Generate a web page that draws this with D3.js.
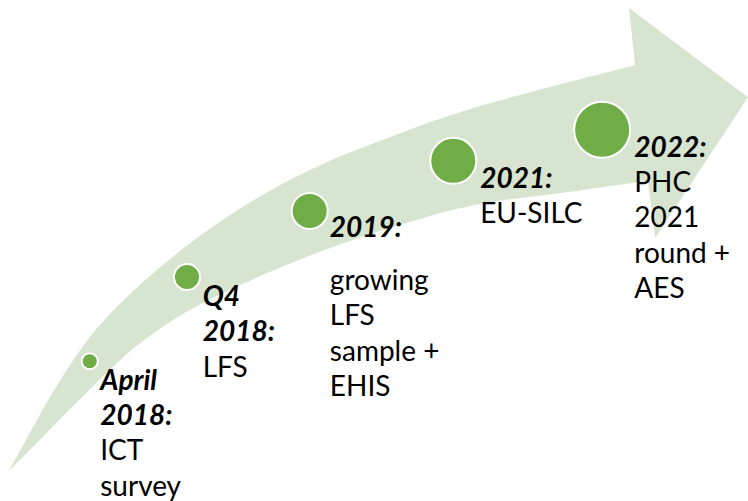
<!DOCTYPE html>
<html>
<head>
<meta charset="utf-8">
<script src="https://cdn.jsdelivr.net/npm/d3@7"></script>
<style>
  html, body { margin: 0; padding: 0; background: #fff; }
  #chart { display: block; }
  .label { font-family: Lato, "Open Sans", sans-serif; font-size: 28px; fill: #000; }
  .label .head { font-weight: bold; font-style: italic; }
</style>
</head>
<body>
<svg id="chart" width="748" height="501"></svg>
<script>
(function () {
  // design grid: 0-100 on both axes, mapped to the picture by the scales below
  const upperEdge = [[1.3, 93.8], [4.0, 86.4], [7.1, 78.2], [11.6, 68.1], [15.6, 61.3], [20.5, 54.5],
    [26.7, 47.1], [34.4, 39.5], [43.2, 32.7], [52.1, 27.4], [60.2, 23.0], [70.9, 18.4], [84.9, 13.0]];
  const lowerEdge = [[1.3, 93.8], [5.3, 87.8], [9.4, 81.6], [13.8, 75.1], [18.0, 69.3], [22.7, 64.3],
    [27.1, 60.5], [34.8, 55.1], [44.1, 49.5], [57.5, 43.1], [64.2, 40.7], [77.1, 38.1], [86.6, 36.1]];
  const arrowHead = [[84.1, 1.6], [100, 19.4], [87.6, 47.5]];

  const milestones = ['April 2018', 'Q4 2018', '2019', '2021', '2022'];
  const stage = [1, 2, 3, 4, 5];
  const dotX = [12.0, 25.0, 41.4, 60.6, 80.5];
  const dotY = [72.1, 55.3, 42.1, 32.1, 25.9];
  const headLines = [['April', '2018:'], ['Q4', '2018:'], ['2019:'], ['2021:'], ['2022:']];
  const bodyLines = [['ICT', 'survey'], ['LFS'], ['growing', 'LFS', 'sample +', 'EHIS'], ['EU-SILC'],
    ['PHC', '2021', 'round +', 'AES']];
  const labelX = [13.4, 27.1, 44.1, 64.2, 84.8];
  const labelY = [77.8, 61.1, 47.3, 37.5, 31.3];
  const bodyGap = [0, 0, 0.5, 0, 0];

  const WIDTH = 748;
  const HEIGHT = 501;
  const LINE_HEIGHT = 35.3;

  const svg = d3.select('#chart');

  const x = d3.scaleLinear().domain([0, 100]).range([0, WIDTH]);
  const y = d3.scaleLinear().domain([0, 100]).range([0, HEIGHT]);
  const r = d3.scaleLinear().domain([1, 5]).range([8, 28]);

  // ==================
  // Arrow
  // ==================
  const edge = d3.line()
    .x(d => x(d[0]))
    .y(d => y(d[1]))
    .curve(d3.curveCatmullRom.alpha(0.5));

  const upperPath = edge(upperEdge);
  const lowerPath = edge(lowerEdge.slice().reverse()).replace(/^M/, 'L');
  const headPath = arrowHead.map(p => 'L' + x(p[0]) + ',' + y(p[1])).join('');

  svg.append('path')
    .attr('d', upperPath + headPath + lowerPath + 'Z')
    .attr('fill', '#d7e4d0');

  // ==================
  // Dots
  // ==================
  svg.selectAll('circle.dot')
    .data(milestones)
    .join('circle')
    .attr('class', 'dot')
    .attr('cx', (d, i) => x(dotX[i]))
    .attr('cy', (d, i) => y(dotY[i]))
    .attr('r', (d, i) => r(stage[i]))
    .attr('fill', '#70ad47')
    .attr('stroke', '#fff')
    .attr('stroke-width', 2);

  // ==================
  // Labels
  // ==================
  const labels = svg.selectAll('text.label')
    .data(milestones)
    .join('text')
    .attr('class', 'label');

  labels.each(function (d, i) {
    const t = d3.select(this);
    const left = x(labelX[i]);
    const top = y(labelY[i]);
    headLines[i].forEach((line, j) => {
      t.append('tspan').attr('class', 'head')
        .attr('x', left).attr('y', top + j * LINE_HEIGHT).text(line);
    });
    const start = top + (headLines[i].length + bodyGap[i]) * LINE_HEIGHT;
    bodyLines[i].forEach((line, j) => {
      t.append('tspan')
        .attr('x', left).attr('y', start + j * LINE_HEIGHT).text(line);
    });
  });
})();
</script>
</body>
</html>
